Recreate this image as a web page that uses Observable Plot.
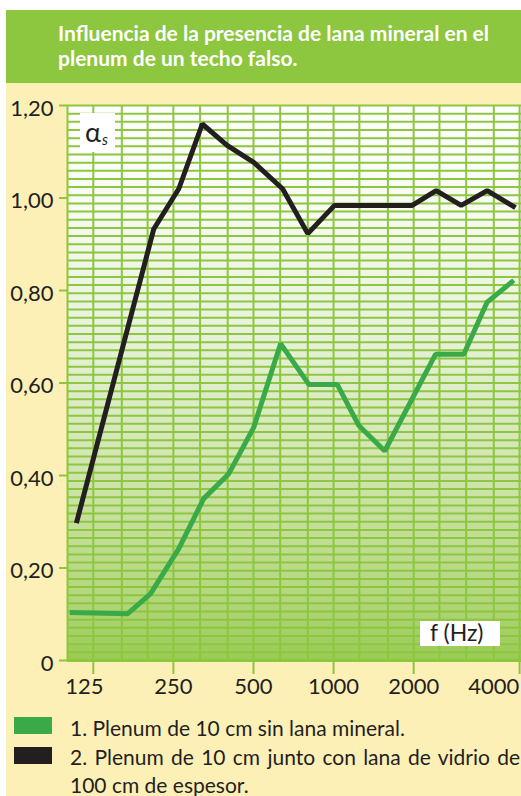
<!DOCTYPE html>
<html>
<head>
<meta charset="utf-8">
<script src="https://cdn.jsdelivr.net/npm/d3@7"></script>
<script src="https://cdn.jsdelivr.net/npm/@observablehq/plot@0.6"></script>
<style>
  html, body { margin: 0; padding: 0; background: #ffffff; }
  body { width: 521px; height: 796px; position: relative; overflow: hidden; font-family: Lato, "Open Sans", sans-serif; }
  #panel { position: absolute; left: 6px; top: 10px; width: 515px; height: 786px; background: #fdf0b7; }
  #title { position: absolute; left: 0; top: 0; width: 515px; height: 73px; background: #8dc63f; }
  #title div { position: absolute; left: 52px; color: #ffffff; font-weight: 700; font-size: 21px; line-height: 25px; white-space: nowrap; }
  #chart { position: absolute; left: 0; top: 73px; }
  .ann { position: absolute; background: #ffffff; color: #231f20; }
  #legend { position: absolute; left: 8px; top: 704px; width: 506px; }
  .row { position: relative; padding-left: 56px; font-size: 21px; line-height: 28.5px; color: #231f20; text-align: justify; }
  .sw { position: absolute; left: 0; width: 38px; height: 17px; }
</style>
</head>
<body>
<div id="panel">
  <div id="title"></div>
  <div id="chart"></div>
  <div class="ann" id="alpha" style="left:74px; top:103px; width:35px; height:39px;"><span style="position:absolute; left:5px; top:2px; font-size:27px;"></span><span style="position:absolute; left:22px; top:17px; font-size:15px; font-style:italic;"></span></div>
  <div class="ann" id="fhz" style="left:414px; top:611px; width:80px; height:25px;"><span style="position:absolute; left:10px; top:-3px; font-size:23px; white-space:nowrap;"></span></div>
  <div id="legend"></div>
</div>
<script>
// ---- data ----
const titleLines = ["Influencia de la presencia de lana mineral en el", "plenum de un techo falso."];
const seriesNames = ["1. Plenum de 10 cm sin lana mineral.", "2. Plenum de 10 cm junto con lana de vidrio de 100 cm de espesor."];
const seriesColors = ["#3aaa49", "#231f20"];
const yAxisLabel = "α";
const yAxisSub = "s";
const xAxisLabel = "f (Hz)";

const bandFreqs = [100, 125, 160, 200, 250, 315, 400, 500, 630, 800, 1000, 1250, 1600, 2000, 2500, 3150, 4000, 5000];
const xTickFreqs = [125, 250, 500, 1000, 2000, 4000];
const xTickLabels = ["125", "250", "500", "1000", "2000", "4000"];
const xTickMarks = [125, 250, 500, 1000, 2000, 5000];
const yTicks = [0, 0.2, 0.4, 0.6, 0.8, 1.0, 1.2];
const yTickLabels = ["0", "0,20", "0,40", "0,60", "0,80", "1,00", "1,20"];
const gridRows = 68;

const greenFreq = [102, 168, 205, 262, 325, 404, 501, 632, 807, 1032, 1244, 1557, 2415, 3086, 3778, 4757];
const greenAlpha = [0.104, 0.101, 0.144, 0.242, 0.350, 0.404, 0.504, 0.685, 0.597, 0.597, 0.508, 0.453, 0.662, 0.662, 0.775, 0.822];
const blackFreq = [108, 211, 262, 321, 398, 501, 643, 800, 1008, 1974, 2430, 3017, 3778, 4827];
const blackAlpha = [0.297, 0.933, 1.020, 1.160, 1.114, 1.077, 1.020, 0.923, 0.984, 0.984, 1.016, 0.984, 1.016, 0.979];

// ---- build ----
const green = greenFreq.map((f, i) => ({f, a: greenAlpha[i]}));
const black = blackFreq.map((f, i) => ({f, a: blackAlpha[i]}));
const gridY = d3.range(gridRows + 1).map(i => 1.2 * i / gridRows);
const gridGreen = "#8dc63f";
const xLabel = d => xTickLabels[xTickFreqs.indexOf(d)];

document.getElementById("title").innerHTML = titleLines.map((t, i) => `<div style="top:${10 + i * 25}px">${t}</div>`).join("");
document.querySelector("#fhz span").textContent = xAxisLabel;
document.querySelector("#alpha span").textContent = yAxisLabel;
document.querySelector("#alpha span:last-child").textContent = yAxisSub;
document.getElementById("legend").innerHTML = seriesNames.map((n, i) =>
  `<div class="row"><span class="sw" style="background:${seriesColors[i]}; top:${i === 0 ? 3 : 4}px"></span>${n}</div>`).join("");

const chart = Plot.plot({
  width: 515,
  height: 622,
  marginLeft: 61,
  marginRight: 0,
  marginTop: 22,
  marginBottom: 45,
  style: {background: "transparent", color: "#231f20", fontFamily: "Lato, sans-serif"},
  x: {type: "log", domain: [100, 5084]},
  y: {domain: [0, 1.2]},
  marks: [
    Plot.frame({fill: "url(#bgGrad)", stroke: "none"}),
    Plot.ruleY(gridY, {stroke: gridGreen, strokeWidth: 2}),
    Plot.ruleX(bandFreqs, {stroke: gridGreen, strokeWidth: 2}),
    Plot.ruleY([0], {stroke: gridGreen, strokeWidth: 3}),
    Plot.axisY({ticks: yTicks, tickSize: 8, tickFormat: () => "", stroke: gridGreen, strokeWidth: 2, label: null}),
    Plot.axisY({ticks: yTicks, tickSize: 0, tickPadding: 14, dy: 3, tickFormat: d => yTickLabels[yTicks.indexOf(d)], fontSize: 22, fill: "#231f20", label: null}),
    Plot.axisX({ticks: xTickMarks, tickSize: 14, tickFormat: () => "", stroke: gridGreen, strokeWidth: 2, label: null}),
    Plot.axisX({ticks: xTickFreqs.slice(0, 1), tickSize: 0, tickPadding: 18, dx: -9, tickFormat: xLabel, fontSize: 22, fill: "#231f20", label: null}),
    Plot.axisX({ticks: xTickFreqs.slice(1), tickSize: 0, tickPadding: 18, tickFormat: xLabel, fontSize: 22, fill: "#231f20", label: null}),
    Plot.line(green, {x: "f", y: "a", stroke: seriesColors[0], strokeWidth: 5, strokeLinejoin: "miter", strokeLinecap: "butt"}),
    Plot.line(black, {x: "f", y: "a", stroke: seriesColors[1], strokeWidth: 5, strokeLinejoin: "miter", strokeLinecap: "butt"})
  ]
});

const defs = d3.select(chart).insert("defs", ":first-child");
const grad = defs.append("linearGradient").attr("id", "bgGrad").attr("x1", 0).attr("y1", 0).attr("x2", 0).attr("y2", 1);
[[0, "#ffffff"], [0.17, "#f8fbf3"], [0.4, "#e8f2dc"], [0.67, "#cfe4ad"], [0.89, "#b2d67c"], [1, "#9acb55"]]
  .forEach(([o, c]) => grad.append("stop").attr("offset", o).attr("stop-color", c));

document.getElementById("chart").appendChild(chart);
</script>
</body>
</html>
